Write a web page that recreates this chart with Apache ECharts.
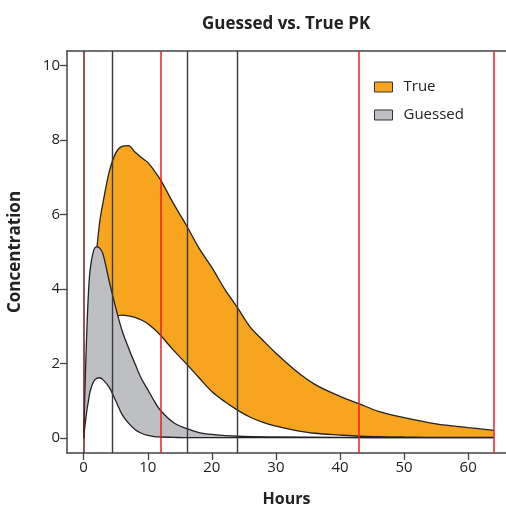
<!DOCTYPE html>
<html>
<head>
<meta charset="utf-8">
<title>Guessed vs. True PK</title>
<script src="https://cdn.jsdelivr.net/npm/echarts@6/dist/echarts.min.js"></script>
<style>
html, body { margin: 0; padding: 0; background: #fff; }
#chart { width: 506px; height: 506px; }
</style>
</head>
<body>
<div id="chart"></div>
<script>
// values
const trueHours = [0, 0.5, 1, 1.5, 2, 2.5, 3, 4, 5, 6, 7, 8, 9, 10, 11, 12, 14, 16, 18, 20, 22, 24, 26, 28, 30, 33, 36, 40, 43, 46, 50, 55, 60, 64];
const trueUpper = [0, 1.8, 3.3, 4.3, 5.0, 5.8, 6.3, 7.15, 7.65, 7.83, 7.85, 7.68, 7.53, 7.40, 7.18, 6.93, 6.30, 5.72, 5.10, 4.58, 4.0, 3.5, 2.98, 2.62, 2.28, 1.82, 1.45, 1.12, 0.92, 0.72, 0.55, 0.38, 0.28, 0.21];
const trueLower = [0, 0.9, 1.6, 2.1, 2.5, 2.75, 2.95, 3.15, 3.26, 3.30, 3.28, 3.24, 3.17, 3.07, 2.93, 2.76, 2.36, 2.0, 1.62, 1.25, 0.98, 0.75, 0.56, 0.42, 0.32, 0.21, 0.13, 0.08, 0.05, 0.04, 0.03, 0.02, 0.02, 0.02];

const guessHours = [0, 0.25, 0.5, 0.75, 1, 1.5, 2, 2.5, 3, 4, 5, 6, 7, 8, 9, 10, 11, 12, 14, 16, 18, 20, 24, 30, 40, 50, 64];
const guessUpper = [0, 1.6, 2.9, 3.9, 4.5, 5.0, 5.13, 5.1, 4.95, 4.2, 3.5, 2.88, 2.42, 2.0, 1.6, 1.3, 1.0, 0.74, 0.42, 0.26, 0.15, 0.1, 0.05, 0.03, 0.02, 0.01, 0.01];
const guessLower = [0, 0.4, 0.74, 1.0, 1.25, 1.5, 1.6, 1.62, 1.57, 1.36, 1.0, 0.63, 0.4, 0.23, 0.13, 0.07, 0.04, 0.03, 0.02, 0.01, 0.01, 0.01, 0.01, 0.01, 0.01, 0.01, 0.01];

const blackTimes = [0, 4.5, 16.2, 24];
const redTimes = [0, 12, 43, 64];

const xTicks = [0, 10, 20, 30, 40, 50, 60];
const yTicks = [0, 2, 4, 6, 8, 10];

const ORANGE = '#F7A51E';
const GRAY = '#BEBFC3';
const OUTLINE = '#222';
const FONT = '"Open Sans", "DejaVu Sans", sans-serif';

const pairs = (xs, ys) => xs.map((x, i) => [x, ys[i]]);

const chart = echarts.init(document.getElementById('chart'));

// each band = upper curve filled with colour, lower curve filled white on top of it
const curve = (name, xs, ys, fill, z) => ({
  name: name,
  type: 'line',
  symbol: 'none',
  smooth: 0.35,
  silent: true,
  z: z,
  data: pairs(xs, ys),
  lineStyle: { color: OUTLINE, width: 1.3 },
  areaStyle: { color: fill, opacity: 1 },
  itemStyle: { color: fill }
});

// vertical reference lines; a time in both lists shows as a dark red line
const refLines = redTimes.map(t => ({
  xAxis: t,
  lineStyle: { color: blackTimes.includes(t) ? '#6B1D22' : '#EE1C25', width: 1.5, type: 'solid' }
})).concat(blackTimes.filter(t => !redTimes.includes(t)).map(t => ({
  xAxis: t,
  lineStyle: { color: '#3a3a3a', width: 1.4, type: 'solid' }
})));

const option = {
  animation: false,
  title: {
    text: 'Guessed vs. True PK',
    left: 197,
    top: 11,
    textStyle: { fontFamily: FONT, fontSize: 17, fontWeight: 'bold', color: '#222' }
  },
  legend: {
    data: [
      { name: 'True', itemStyle: { color: ORANGE } },
      { name: 'Guessed', itemStyle: { color: GRAY } }
    ],
    orient: 'vertical',
    left: 374,
    top: 78,
    padding: 0,
    itemGap: 10,
    itemWidth: 18,
    itemHeight: 10,
    icon: 'rect',
    selectedMode: false,
    itemStyle: { borderColor: '#333', borderWidth: 1 },
    textStyle: { fontFamily: FONT, fontSize: 15, color: '#222', lineHeight: 18, padding: [0, 0, 0, 6] }
  },
  grid: { left: 67, top: 51, right: 0, bottom: 53, containLabel: false, outerBoundsMode: 'none' },
  xAxis: [{
    type: 'value',
    min: -2.6,
    max: 65.9,
    name: 'Hours',
    nameLocation: 'middle',
    nameGap: 38,
    nameTextStyle: { fontFamily: FONT, fontSize: 16, fontWeight: 'bold', color: '#222' },
    splitLine: { show: false },
    axisLine: { onZero: false, lineStyle: { color: '#444', width: 1.5 } },
    axisTick: { customValues: xTicks, length: 7, lineStyle: { color: '#444', width: 1.3 } },
    axisLabel: { customValues: xTicks, margin: 7, fontFamily: FONT, fontSize: 15, color: '#222' }
  }, {
    type: 'value',
    position: 'top',
    min: -2.6,
    max: 65.9,
    splitLine: { show: false },
    axisLine: { onZero: false, lineStyle: { color: '#444', width: 1.5 } },
    axisTick: { show: false },
    axisLabel: { show: false }
  }],
  yAxis: {
    type: 'value',
    min: -0.4,
    max: 10.39,
    name: 'Concentration',
    nameLocation: 'middle',
    nameGap: 43,
    nameTextStyle: { fontFamily: FONT, fontSize: 17, fontWeight: 'bold', color: '#222' },
    splitLine: { show: false },
    axisLine: { show: true, onZero: false, lineStyle: { color: '#444', width: 1.5 } },
    axisTick: { show: true, customValues: yTicks, length: 7, lineStyle: { color: '#444', width: 1.3 } },
    axisLabel: { customValues: yTicks, margin: 7, fontFamily: FONT, fontSize: 15, color: '#222' }
  },
  series: [
    curve('True', trueHours, trueUpper, ORANGE, 2),
    curve('trueLower', trueHours, trueLower, '#fff', 2),
    curve('Guessed', guessHours, guessUpper, GRAY, 3),
    curve('guessLower', guessHours, guessLower, '#fff', 3),
    {
      name: 'refs',
      type: 'line',
      z: 4,
      data: [],
      silent: true,
      markLine: {
        silent: true,
        symbol: ['none', 'none'],
        label: { show: false },
        animation: false,
        data: refLines
      }
    }
  ]
};

chart.setOption(option);
window.addEventListener('resize', () => chart.resize());
</script>
</body>
</html>
